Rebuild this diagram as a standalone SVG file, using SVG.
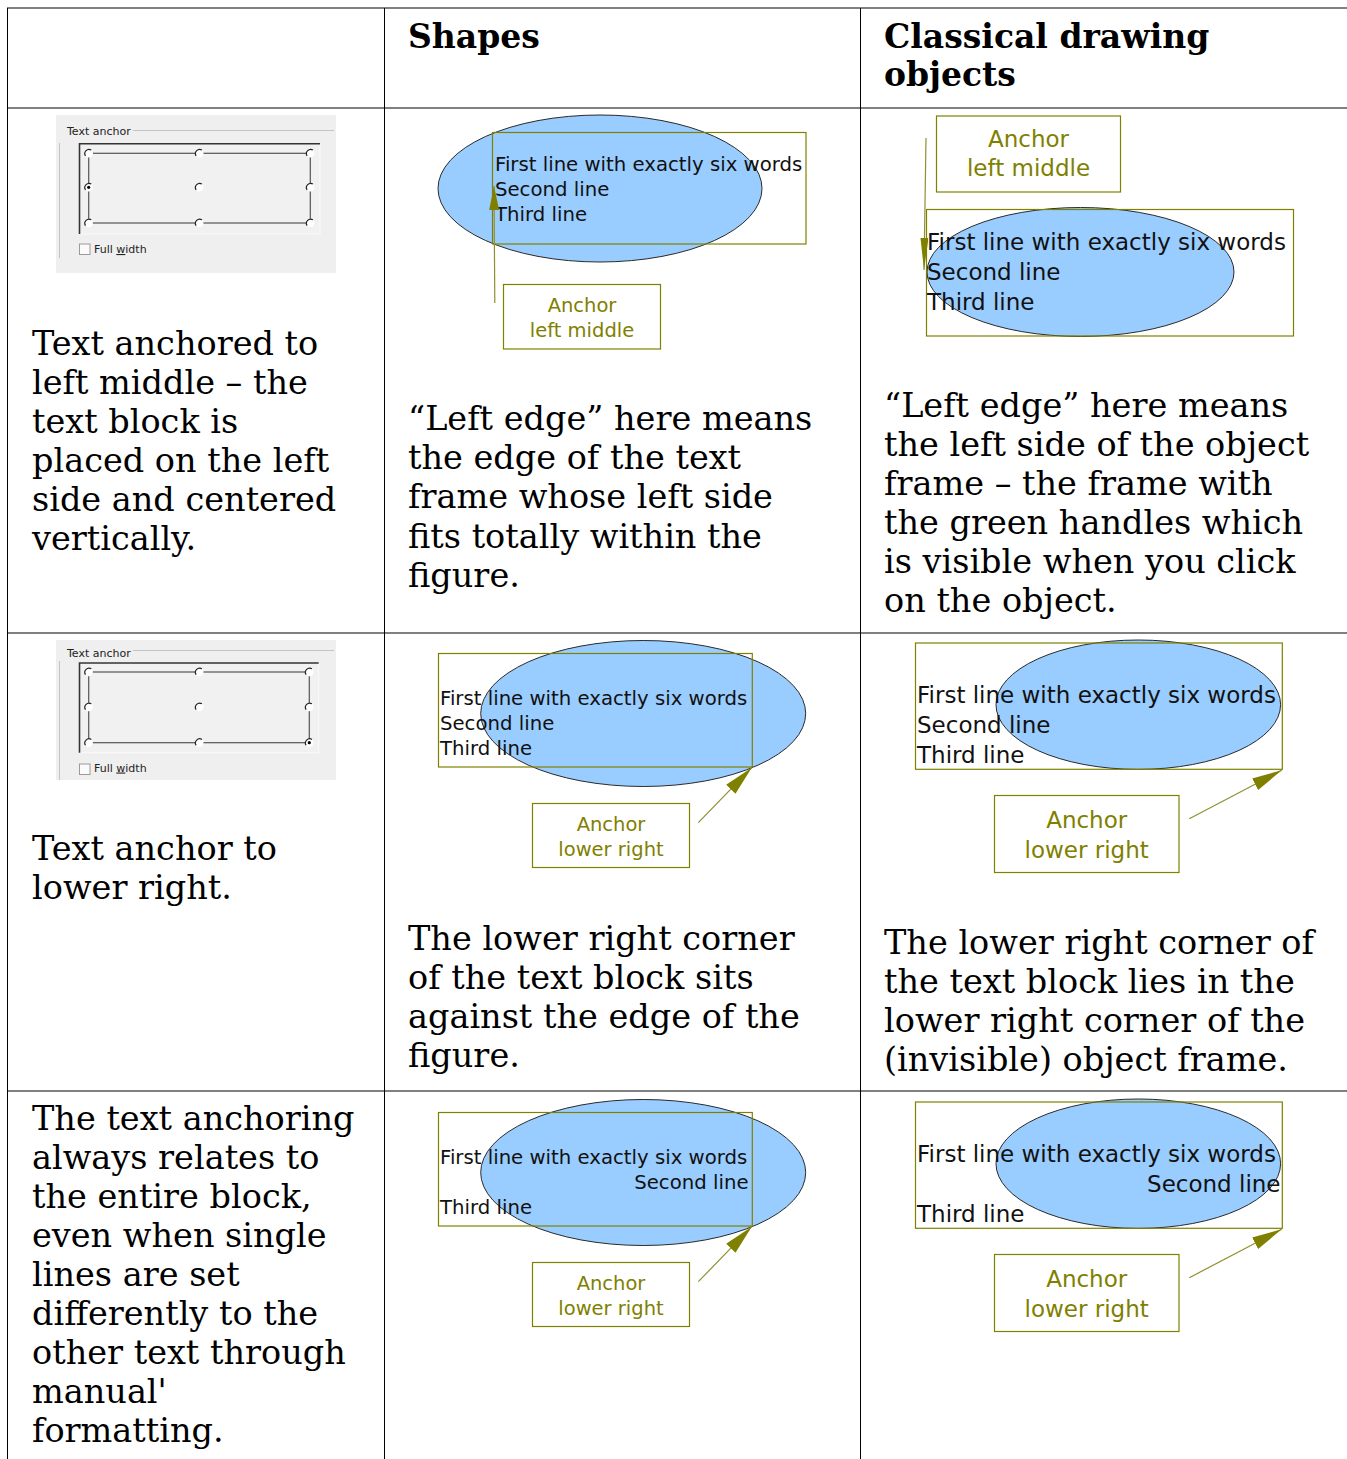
<svg xmlns="http://www.w3.org/2000/svg" xmlns:xlink="http://www.w3.org/1999/xlink" width="1347" height="1459" viewBox="0 0 1347 1459">
<style>
.body{font-family:"DejaVu Serif","Liberation Serif",serif;font-size:33.5px;fill:#000}
.head{font-family:"DejaVu Serif","Liberation Serif",serif;font-size:33px;font-weight:bold;fill:#000}
.hl{stroke:#808080;stroke-width:2;fill:none}
.vl{stroke:#000;stroke-width:1;fill:none}
.ell{fill:#99ccff;stroke:#2a2a2a;stroke-width:1}
.frame{fill:none;stroke:#808000;stroke-width:1.2}
.abox{fill:#fff;stroke:#808000;stroke-width:1.2}
.ts{font-family:"DejaVu Sans","Liberation Sans",sans-serif;font-size:19.7px;fill:#111}
.tc{font-family:"DejaVu Sans","Liberation Sans",sans-serif;font-size:23px;fill:#111}
.gs{font-family:"DejaVu Sans","Liberation Sans",sans-serif;font-size:19.5px;fill:#808000;text-anchor:middle}
.gc{font-family:"DejaVu Sans","Liberation Sans",sans-serif;font-size:23px;fill:#808000;text-anchor:middle}
.conn{stroke:#8f8f30;stroke-width:1.2;fill:none}
.dlg{font-family:"DejaVu Sans","Liberation Sans",sans-serif;font-size:11px;fill:#222}
.grid{stroke:#555;stroke-width:1.2;fill:none}
</style>
<defs>
<marker id="arr" markerUnits="userSpaceOnUse" markerWidth="32" markerHeight="14" refX="30" refY="6.5" orient="auto">
<path d="M0,0 L30,6.5 L0,13 z" fill="#808000"/>
</marker>
<marker id="arrUp" markerUnits="userSpaceOnUse" markerWidth="26" markerHeight="12" refX="24" refY="5" orient="auto">
<path d="M0,0 L24,5 L0,10 z" fill="#808000"/>
</marker>
<marker id="arrDn" markerUnits="userSpaceOnUse" markerWidth="34" markerHeight="10" refX="32" refY="4" orient="auto">
<path d="M0,0 L32,4 L0,8 z" fill="#808000"/>
</marker>
<g id="radio">
<circle cx="0" cy="0" r="4.2" fill="#fff"/>
<path d="M-3.2,2.6 A4.2,4.2 0 0 1 2.6,-3.2" fill="none" stroke="#222" stroke-width="1.2"/>
</g>
<g id="radioSel">
<circle cx="0" cy="0" r="4.2" fill="#fff"/>
<path d="M-3.2,2.6 A4.2,4.2 0 0 1 2.6,-3.2" fill="none" stroke="#222" stroke-width="1.2"/>
<circle cx="0" cy="0" r="1.6" fill="#000"/>
</g>
</defs>
<rect width="1347" height="1459" fill="#fff"/>

<g id="table">
<line class="hl" x1="7" y1="8" x2="1347" y2="8"/>
<line class="hl" x1="7" y1="108" x2="1347" y2="108"/>
<line class="hl" x1="7" y1="633" x2="1347" y2="633"/>
<line class="hl" x1="7" y1="1091" x2="1347" y2="1091"/>
<line class="vl" x1="7.5" y1="8" x2="7.5" y2="1459"/>
<line class="vl" x1="384.5" y1="8" x2="384.5" y2="1459"/>
<line class="vl" x1="860.5" y1="8" x2="860.5" y2="1459"/>
</g>

<g id="header">
<text class="head" x="408" y="48">Shapes</text>
<text class="head" x="884" y="48">Classical drawing</text>
<text class="head" x="884" y="86">objects</text>
</g>

<g id="dialog1">
<rect x="56" y="115" width="280" height="158" fill="#efefef"/>
<text class="dlg" x="67" y="135">Text anchor</text>
<line x1="133" y1="130.5" x2="334" y2="130.5" stroke="#c4c4c4" stroke-width="1"/>
<line x1="59.5" y1="143" x2="59.5" y2="258" stroke="#c4c4c4" stroke-width="1"/>
<rect x="79" y="143.5" width="241" height="90.5" fill="#f1f1f1" stroke="#fafafa" stroke-width="1"/>
<path d="M79.5,234 L79.5,143.8 L320,143.8" fill="none" stroke="#333" stroke-width="1.6"/>
<rect class="grid" x="88.7" y="153.3" width="221.6" height="69.7"/>
<use xlink:href="#radio" x="88.7" y="153.3"/>
<use xlink:href="#radio" x="199.3" y="153.3"/>
<use xlink:href="#radio" x="310.3" y="153.3"/>
<use xlink:href="#radioSel" x="88.7" y="187.3"/>
<use xlink:href="#radio" x="199.3" y="187.3"/>
<use xlink:href="#radio" x="310.3" y="187.3"/>
<use xlink:href="#radio" x="88.7" y="223"/>
<use xlink:href="#radio" x="199.3" y="223"/>
<use xlink:href="#radio" x="310.3" y="223"/>
<rect x="79.5" y="244" width="10.5" height="10.5" fill="#fbfbfb" stroke="#9a9a9a" stroke-width="1"/>
<text class="dlg" x="94" y="253">Full <tspan text-decoration="underline">w</tspan>idth</text>
</g>

<g id="dialog2">
<rect x="56" y="640" width="280" height="140" fill="#efefef"/>
<text class="dlg" x="67" y="657">Text anchor</text>
<line x1="133" y1="650.5" x2="334" y2="650.5" stroke="#c4c4c4" stroke-width="1"/>
<line x1="59.5" y1="661" x2="59.5" y2="780" stroke="#c4c4c4" stroke-width="1"/>
<rect x="79" y="662.7" width="239.7" height="90" fill="#f1f1f1" stroke="#fafafa" stroke-width="1"/>
<path d="M79.5,752.7 L79.5,663 L318.7,663" fill="none" stroke="#333" stroke-width="1.6"/>
<rect class="grid" x="88.7" y="672" width="220.6" height="70.7"/>
<use xlink:href="#radio" x="88.7" y="672"/>
<use xlink:href="#radio" x="199.3" y="672"/>
<use xlink:href="#radio" x="309.3" y="672"/>
<use xlink:href="#radio" x="88.7" y="707"/>
<use xlink:href="#radio" x="199.3" y="707"/>
<use xlink:href="#radio" x="309.3" y="707"/>
<use xlink:href="#radio" x="88.7" y="742.7"/>
<use xlink:href="#radio" x="199.3" y="742.7"/>
<use xlink:href="#radioSel" x="309.3" y="742.7"/>
<rect x="79.5" y="764" width="10.5" height="10.5" fill="#fbfbfb" stroke="#9a9a9a" stroke-width="1"/>
<text class="dlg" x="94" y="771.5">Full <tspan text-decoration="underline">w</tspan>idth</text>
</g>

<g id="text-r1c1">
<text class="body" x="32" y="354.5">Text anchored to</text>
<text class="body" x="32" y="393.5">left middle – the</text>
<text class="body" x="32" y="432.5">text block is</text>
<text class="body" x="32" y="471.5">placed on the left</text>
<text class="body" x="32" y="510.5">side and centered</text>
<text class="body" x="32" y="549.5">vertically.</text>
</g>
<g id="text-r1c2">
<text class="body" x="408" y="430">“Left edge” here means</text>
<text class="body" x="408" y="469">the edge of the text</text>
<text class="body" x="408" y="508">frame whose left side</text>
<text class="body" x="408" y="548">fits totally within the</text>
<text class="body" x="408" y="587">figure.</text>
</g>
<g id="text-r1c3">
<text class="body" x="884" y="417">“Left edge” here means</text>
<text class="body" x="884" y="456">the left side of the object</text>
<text class="body" x="884" y="495">frame – the frame with</text>
<text class="body" x="884" y="534">the green handles which</text>
<text class="body" x="884" y="573">is visible when you click</text>
<text class="body" x="884" y="612">on the object.</text>
</g>
<g id="text-r2c1">
<text class="body" x="32" y="860">Text anchor to</text>
<text class="body" x="32" y="899">lower right.</text>
</g>
<g id="text-r2c2">
<text class="body" x="408" y="950">The lower right corner</text>
<text class="body" x="408" y="989">of the text block sits</text>
<text class="body" x="408" y="1028">against the edge of the</text>
<text class="body" x="408" y="1067">figure.</text>
</g>
<g id="text-r2c3">
<text class="body" x="884" y="954">The lower right corner of</text>
<text class="body" x="884" y="993">the text block lies in the</text>
<text class="body" x="884" y="1032">lower right corner of the</text>
<text class="body" x="884" y="1071">(invisible) object frame.</text>
</g>
<g id="text-r3c1">
<text class="body" x="32" y="1130">The text anchoring</text>
<text class="body" x="32" y="1169">always relates to</text>
<text class="body" x="32" y="1208">the entire block,</text>
<text class="body" x="32" y="1247">even when single</text>
<text class="body" x="32" y="1286">lines are set</text>
<text class="body" x="32" y="1325">differently to the</text>
<text class="body" x="32" y="1364">other text through</text>
<text class="body" x="32" y="1403">manual'</text>
<text class="body" x="32" y="1442">formatting.</text>
</g>

<g id="shape-r1">
<ellipse class="ell" cx="600" cy="188.5" rx="162" ry="73.5"/>
<rect class="frame" x="492.5" y="132.5" width="313.5" height="111.5"/>
<text class="ts" x="495" y="170.5">First line with exactly six words</text>
<text class="ts" x="495" y="195.5">Second line</text>
<text class="ts" x="495" y="220.5">Third line</text>
</g>
<g id="label-r1-shape">
<rect class="abox" x="503.5" y="284.5" width="157" height="64.5"/>
<text class="gs" x="582" y="312">Anchor</text>
<text class="gs" x="582" y="337">left middle</text>
</g>

<g id="classic-r1">
<ellipse class="ell" cx="1080.5" cy="272" rx="153.5" ry="64.5"/>
<rect class="frame" x="926.5" y="209.5" width="367" height="126.5"/>
<text class="tc" x="927" y="249.5">First line with exactly six words</text>
<text class="tc" x="927" y="280">Second line</text>
<text class="tc" x="927" y="310">Third line</text>
</g>
<g id="label-r1-classic">
<rect class="abox" x="936.5" y="116" width="184" height="76"/>
<text class="gc" x="1028.5" y="146.5">Anchor</text>
<text class="gc" x="1028.5" y="176">left middle</text>
</g>

<g id="shape-r2">
<ellipse class="ell" cx="643.2" cy="713.5" rx="162.5" ry="73"/>
<rect class="frame" x="438.5" y="653.5" width="313.8" height="113.5"/>
<text class="ts" x="440" y="704.5">First line with exactly six words</text>
<text class="ts" x="440" y="729.5">Second line</text>
<text class="ts" x="440" y="754.5">Third line</text>
</g>
<g id="label-r2-shape">
<rect class="abox" x="532.5" y="803.5" width="157" height="64"/>
<text class="gs" x="611" y="831">Anchor</text>
<text class="gs" x="611" y="856">lower right</text>
</g>

<g id="classic-r2">
<ellipse class="ell" cx="1138.3" cy="704.7" rx="142.3" ry="64.7"/>
<rect class="frame" x="915.5" y="643" width="366.8" height="126.3"/>
<text class="tc" x="917" y="703">First line with exactly six words</text>
<text class="tc" x="917" y="733">Second line</text>
<text class="tc" x="917" y="763">Third line</text>
</g>
<g id="label-r2-classic">
<rect class="abox" x="994.5" y="795.5" width="184.5" height="77"/>
<text class="gc" x="1086.7" y="828">Anchor</text>
<text class="gc" x="1086.7" y="858">lower right</text>
</g>

<g id="shape-r3">
<ellipse class="ell" cx="643.2" cy="1172.5" rx="162.5" ry="73"/>
<rect class="frame" x="438.5" y="1112.5" width="313.8" height="113.5"/>
<text class="ts" x="440" y="1163.5">First line with exactly six words</text>
<text class="ts" x="748.5" y="1188.5" text-anchor="end">Second line</text>
<text class="ts" x="440" y="1213.5">Third line</text>
</g>
<g id="label-r3-shape">
<rect class="abox" x="532.5" y="1262.5" width="157" height="64"/>
<text class="gs" x="611" y="1290">Anchor</text>
<text class="gs" x="611" y="1315">lower right</text>
</g>

<g id="classic-r3">
<ellipse class="ell" cx="1138.3" cy="1163.7" rx="142.3" ry="64.7"/>
<rect class="frame" x="915.5" y="1102" width="366.8" height="126.3"/>
<text class="tc" x="917" y="1162">First line with exactly six words</text>
<text class="tc" x="1280.5" y="1192" text-anchor="end">Second line</text>
<text class="tc" x="917" y="1222">Third line</text>
</g>
<g id="label-r3-classic">
<rect class="abox" x="994.5" y="1254.5" width="184.5" height="77"/>
<text class="gc" x="1086.7" y="1287">Anchor</text>
<text class="gc" x="1086.7" y="1317">lower right</text>
</g>

<g id="connectors">
<line class="conn" x1="494.8" y1="303" x2="494" y2="186" marker-end="url(#arrUp)"/>
<line class="conn" x1="926" y1="138" x2="924" y2="270" marker-end="url(#arrDn)"/>
<line class="conn" x1="698.3" y1="822.7" x2="751.7" y2="767.7" marker-end="url(#arr)"/>
<line class="conn" x1="1189.3" y1="818.7" x2="1281.7" y2="770.3" marker-end="url(#arr)"/>
<line class="conn" x1="698.3" y1="1281.7" x2="751.7" y2="1226.7" marker-end="url(#arr)"/>
<line class="conn" x1="1189.3" y1="1277.7" x2="1281.7" y2="1229.3" marker-end="url(#arr)"/>
</g>
</svg>
